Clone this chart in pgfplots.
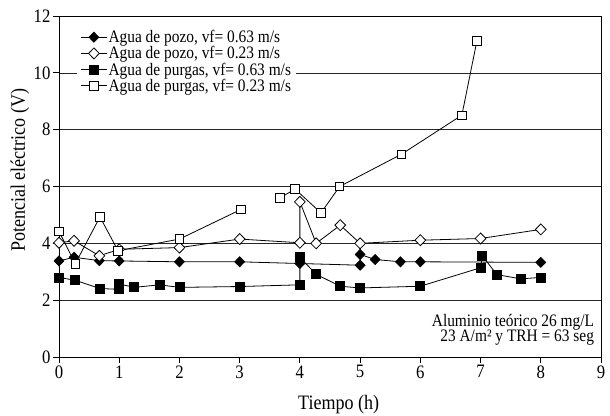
\documentclass[border=0pt]{standalone}
\usepackage{fontspec}
\setmainfont{Liberation Serif}[FakeStretch=0.88]
\usepackage{pgfplots}
\pgfplotsset{compat=1.18}
\begin{document}
\begin{tikzpicture}
\begin{axis}[
  scale only axis,
  width=542pt, height=341pt,
  xmin=0, xmax=9, ymin=0, ymax=12,
  xtick={0,1,...,9}, ytick={0,2,...,12},
  tick align=outside, xtick pos=bottom, ytick pos=left,
  major tick length=6pt,
  ymajorgrids, grid style={black!85, line width=0.6pt},
  axis line style={line width=0.8pt},
  tick style={black, line width=0.8pt},
  tick label style={font=\fontsize{19}{21}\selectfont},
  xticklabel style={yshift=1pt},
  yticklabel style={xshift=1pt},
  /pgf/number format/assume math mode=true,
  xlabel={Tiempo (h)}, ylabel={Potencial eléctrico (V)},
  label style={font=\fontsize{20.5}{23}\selectfont},
  xlabel style={at={(axis description cs:0.516,-0.1525)}, anchor=base},
  ylabel style={at={(axis description cs:-0.072,0.548)}, anchor=center},
  legend style={at={(0.032,0.968)}, anchor=north west, draw=none, fill=white,
    inner xsep=4pt,
    font=\fontsize{17.5}{18}\selectfont,
    nodes={font=\fontsize{17.5}{18}\selectfont, inner sep=1.2pt}},
  legend cell align=left,
  legend image code/.code={\draw[mark repeat=2,mark phase=2,#1] plot coordinates {(0pt,0pt) (13pt,0pt) (26pt,0pt)};},
  unbounded coords=jump,
  clip=false,
  every axis plot/.append style={black, line width=0.8pt},
]
\addplot[mark=diamond*, mark size=5pt, mark options={xscale=1.3, fill=black, solid}] coordinates {
(0,3.38) (0.25,3.51) (0.67,3.39) (1,3.38) (2,3.35) (3,3.35) (4,3.29) (5,3.23) (5,3.61) (5.25,3.43) (5.67,3.35) (6,3.35) (8,3.33)};
\addlegendentry{Agua de pozo, vf= 0.63 m/s}
\addplot[mark=diamond*, mark size=5.5pt, mark options={xscale=1.3, fill=white, solid}] coordinates {
(0,4.02) (0.25,4.09) (0.67,3.56) (1,3.79) (2,3.85) (3,4.15) (4,4.02) (4,5.46) (4.27,4.0) (4.67,4.64) (5,4.0) (6,4.11) (7,4.17) (8,4.49)};
\addlegendentry{Agua de pozo, vf= 0.23 m/s}
\addplot[mark=square*, mark size=4.5pt, mark options={fill=black, solid}] coordinates {
(0,2.8) (0.27,2.7) (0.68,2.41) (1,2.38) (1,2.57) (1.25,2.45) (1.67,2.54) (2,2.45) (3,2.48) (4,2.54) (4,3.51) (4.27,2.91) (4.67,2.49) (5,2.43) (6,2.49) (7,3.14) (7.03,3.56) (7.27,2.9) (7.67,2.75) (8,2.8)};
\addlegendentry{Agua de purgas, vf= 0.63 m/s}
\addplot[mark=square*, mark size=4.2pt, mark options={fill=white, solid}] coordinates {
(0,4.42) (0.27,3.28) (0.68,4.93) (0.98,3.74) (2,4.15) (3.02,5.19) (3.3,nan) (3.67,5.6) (3.92,5.91) (4.35,5.07) (4.66,6.0) (5.69,7.14) (6.69,8.51) (6.94,11.13)};
\addlegendentry{Agua de purgas, vf= 0.23 m/s}
\node[anchor=base east, inner sep=0pt, font=\fontsize{17.5}{18}\selectfont] at (axis cs:8.887,1.09) {Aluminio teórico 26 mg/L};
\node[anchor=base east, inner sep=0pt, font=\fontsize{17.5}{18}\selectfont] at (axis cs:8.887,0.53) {23 A/m² y TRH = 63 seg};
\end{axis}
\pgfresetboundingbox
\path (-59pt,-58pt) rectangle (551pt,357pt);
\end{tikzpicture}
\end{document}
